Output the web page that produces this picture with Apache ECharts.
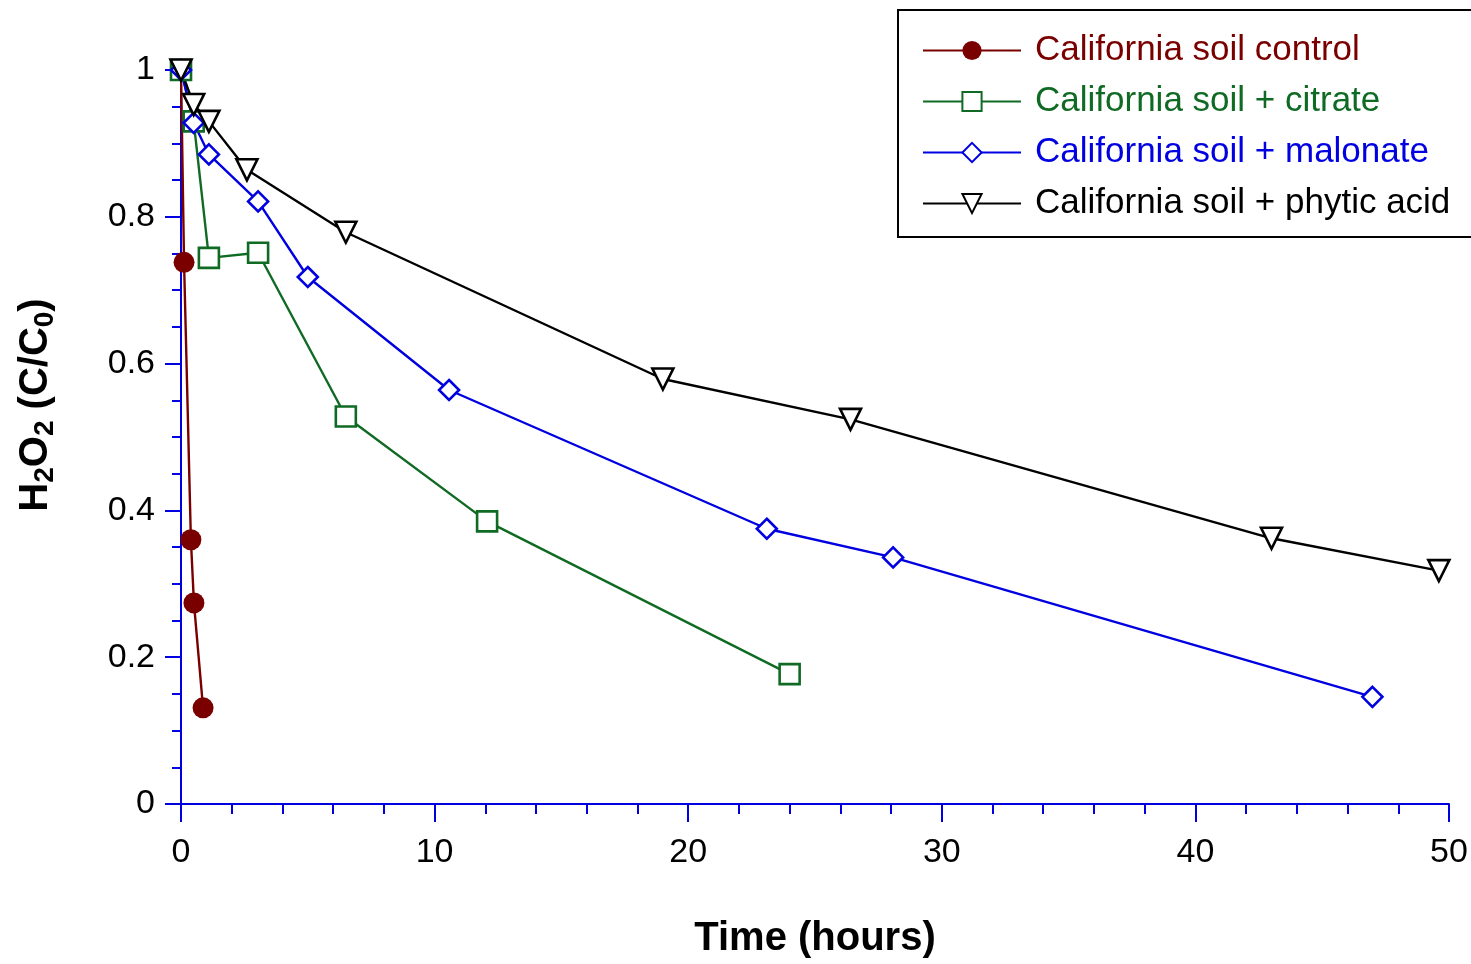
<!DOCTYPE html>
<html>
<head>
<meta charset="utf-8">
<script src="https://cdn.jsdelivr.net/npm/echarts@6/dist/echarts.min.js"></script>
<style>html,body{margin:0;padding:0;background:#fff;overflow:hidden}#c{width:1471px;height:964px}</style>
</head>
<body>
<div id="c"></div>
<script>
// Data
const controlT = [0, 0.12, 0.39, 0.51, 0.87];
const controlV = [1, 0.738, 0.36, 0.274, 0.131];
const citrateT = [0, 0.5, 1.1, 3.04, 6.5, 12.07, 24.0];
const citrateV = [1, 0.93, 0.744, 0.751, 0.528, 0.385, 0.177];
const malonateT = [0, 0.5, 1.1, 3.04, 5.0, 10.57, 23.1, 28.08, 46.98];
const malonateV = [1, 0.928, 0.885, 0.821, 0.718, 0.564, 0.375, 0.336, 0.146];
const phyticT = [0, 0.5, 1.1, 2.6, 6.5, 19.0, 26.4, 43.0, 49.6];
const phyticV = [1, 0.953, 0.93, 0.864, 0.779, 0.579, 0.524, 0.362, 0.318];
const seriesNames = ['California soil control', 'California soil + citrate', 'California soil + malonate', 'California soil + phytic acid'];

const FONT = "'Liberation Sans', Arial, sans-serif";
const AX = '#0000e0';
const colors = ['#7a0000', '#0f6b23', '#0000e0', '#000000'];
const zip = (a, b) => a.map((t, i) => [t, b[i]]);

const chart = echarts.init(document.getElementById('c'), null, {renderer: 'canvas'});
const base = (name, color, data, symbol, size, filled, rotate) => ({
  name, type: 'line', data, symbol, symbolSize: size, symbolRotate: rotate || 0,
  showAllSymbol: true, animation: false,
  lineStyle: {color, width: 2.4},
  itemStyle: {color: filled ? color : '#fff', borderColor: color, borderWidth: filled ? 0 : 2.6},
  emphasis: {disabled: true}
});

chart.setOption({
  animation: false,
  textStyle: {fontFamily: FONT},
  grid: {left: 181, right: 22, top: 70, bottom: 156, containLabel: false},
  legend: {
    left: 898, top: 10, orient: 'vertical',
    padding: [23, 40, 16, 24],
    borderColor: '#000', borderWidth: 2,
    itemWidth: 98, itemHeight: 24, itemGap: 16,
    backgroundColor: '#fff',
    textStyle: {fontSize: 35, fontFamily: FONT, lineHeight: 34, padding: [0, 0, 0, 9]},
    data: seriesNames.map((n, i) => ({name: n, textStyle: {color: colors[i]}}))
  },
  xAxis: {
    type: 'value', min: 0, max: 50, interval: 10,
    name: 'Time (hours)', nameLocation: 'middle', nameGap: 115,
    nameTextStyle: {fontSize: 40, fontWeight: 'bold', color: '#000', fontFamily: FONT},
    axisLine: {show: true, lineStyle: {color: AX, width: 2}},
    axisTick: {show: true, length: 18, lineStyle: {color: AX, width: 2}},
    minorTick: {show: true, splitNumber: 5, length: 10, lineStyle: {color: AX, width: 2}},
    splitLine: {show: false},
    axisLabel: {fontSize: 34, color: '#000', margin: 32, fontFamily: FONT}
  },
  yAxis: {
    type: 'value', min: 0, max: 1, interval: 0.2,
    name: 'H{sub|2}O{sub|2} (C/C{sub|0})', nameLocation: 'middle', nameGap: 122, nameRotate: 90,
    nameTextStyle: {fontSize: 40, fontWeight: 'bold', color: '#000', fontFamily: FONT, padding: [0, 0, 0, 64],
      rich: {sub: {fontSize: 28, fontWeight: 'bold', color: '#000', fontFamily: FONT, padding: [18, 0, 0, 0]}}},
    axisLine: {show: true, lineStyle: {color: AX, width: 2}},
    axisTick: {show: true, length: 16, lineStyle: {color: AX, width: 2}},
    minorTick: {show: true, splitNumber: 4, length: 9, lineStyle: {color: AX, width: 2}},
    splitLine: {show: false},
    axisLabel: {fontSize: 34, color: '#000', margin: 26, fontFamily: FONT,
      formatter: v => (Math.round(v * 10) / 10).toString()}
  },
  series: [
    base(seriesNames[0], colors[0], zip(controlT, controlV), 'circle', 21, true),
    base(seriesNames[1], colors[1], zip(citrateT, citrateV), 'rect', 20, false),
    base(seriesNames[2], colors[2], zip(malonateT, malonateV), 'diamond', 20, false),
    base(seriesNames[3], colors[3], zip(phyticT, phyticV), 'triangle', 21, false, 180)
  ]
});
</script>
</body>
</html>
